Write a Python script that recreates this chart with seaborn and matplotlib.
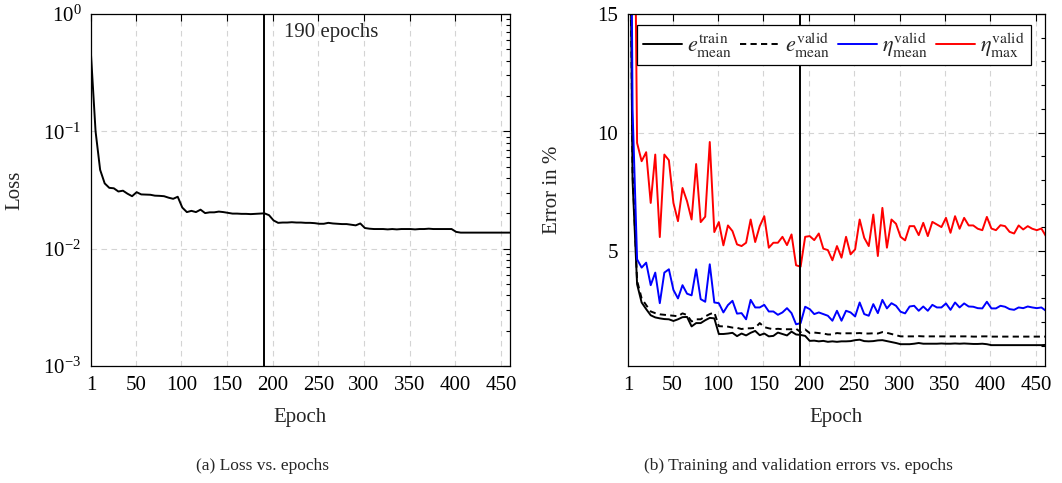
import matplotlib
matplotlib.use("Agg")
import matplotlib.pyplot as plt
import numpy as np
import pandas as pd
import seaborn as sns
from matplotlib.ticker import FixedLocator, LogLocator, MultipleLocator, NullFormatter, NullLocator

# ---------------- data ----------------
epochs = list(range(1, 462, 5))  # 1, 6, 11, ..., 461

loss = [
    0.45, 0.10, 0.047, 0.036, 0.033, 0.0327, 0.0307, 0.0312, 0.0294, 0.0280,
    0.0303, 0.0290, 0.0289, 0.0288, 0.0283, 0.0282, 0.0280, 0.0272, 0.0266, 0.0277,
    0.0224, 0.0205, 0.0210, 0.0205, 0.0215, 0.0201, 0.0204, 0.0204, 0.0207, 0.0205,
    0.0202, 0.0199, 0.0199, 0.0198, 0.0198, 0.0197, 0.0198, 0.0199, 0.0200, 0.0193,
    0.0174, 0.0166, 0.0167, 0.0167, 0.0168, 0.0167, 0.0167, 0.0166, 0.0166, 0.0165,
    0.0163, 0.0163, 0.0166, 0.0164, 0.0163, 0.0162, 0.0162, 0.0160, 0.0158, 0.0164,
    0.0150, 0.0148, 0.0147, 0.0147, 0.0147, 0.0146, 0.0147, 0.0146, 0.0147, 0.0147,
    0.0147, 0.0146, 0.0147, 0.0147, 0.0148, 0.0147, 0.0147, 0.0147, 0.0147, 0.0147,
    0.0139, 0.0137, 0.0137, 0.0137, 0.0137, 0.0137, 0.0137, 0.0137, 0.0137, 0.0137,
    0.0137, 0.0137, 0.0137,
]

e_train_mean = [
    30.0, 8.0, 3.60, 2.83, 2.55, 2.29, 2.20, 2.16, 2.13, 2.12,
    2.05, 2.12, 2.21, 2.22, 1.82, 1.96, 1.96, 2.08, 2.18, 2.16,
    1.50, 1.50, 1.52, 1.55, 1.41, 1.52, 1.44, 1.55, 1.63, 1.45,
    1.52, 1.40, 1.42, 1.56, 1.50, 1.44, 1.60, 1.48, 1.46, 1.42,
    1.21, 1.22, 1.19, 1.21, 1.17, 1.19, 1.17, 1.19, 1.19, 1.20,
    1.24, 1.26, 1.20, 1.19, 1.20, 1.23, 1.24, 1.20, 1.16, 1.12,
    1.07, 1.07, 1.07, 1.09, 1.12, 1.09, 1.09, 1.09, 1.09, 1.10,
    1.09, 1.09, 1.10, 1.09, 1.10, 1.09, 1.08, 1.08, 1.09, 1.07,
    1.03, 1.03, 1.03, 1.03, 1.03, 1.03, 1.03, 1.03, 1.03, 1.03,
    1.03, 1.03, 1.04,
]

e_valid_mean = [
    30.0, 8.4, 3.75, 3.00, 2.72, 2.45, 2.38, 2.33, 2.31, 2.29,
    2.27, 2.25, 2.37, 2.30, 2.03, 2.12, 2.12, 2.24, 2.34, 2.41,
    1.83, 1.82, 1.81, 1.77, 1.76, 1.71, 1.74, 1.74, 1.76, 1.96,
    1.79, 1.74, 1.70, 1.72, 1.70, 1.70, 1.70, 1.72, 1.58, 1.69,
    1.54, 1.56, 1.54, 1.52, 1.48, 1.48, 1.54, 1.52, 1.53, 1.53,
    1.53, 1.54, 1.52, 1.52, 1.53, 1.52, 1.58, 1.55, 1.50, 1.45,
    1.40, 1.40, 1.40, 1.40, 1.41, 1.40, 1.40, 1.40, 1.40, 1.40,
    1.40, 1.40, 1.40, 1.40, 1.40, 1.40, 1.39, 1.39, 1.40, 1.40,
    1.39, 1.39, 1.39, 1.39, 1.39, 1.39, 1.39, 1.39, 1.39, 1.39,
    1.39, 1.39, 1.39,
]

eta_mean = [
    40.0, 11.0, 4.65, 4.30, 4.51, 3.56, 4.09, 2.80, 4.09, 4.23,
    3.36, 3.00, 3.56, 3.20, 3.13, 4.23, 2.97, 2.86, 4.44, 2.83,
    2.80, 2.41, 2.72, 2.90, 2.36, 2.38, 2.12, 2.94, 2.62, 2.62,
    2.73, 2.45, 2.45, 2.31, 2.41, 2.59, 2.38, 1.91, 1.96, 2.65,
    2.55, 2.34, 2.41, 2.34, 2.27, 2.06, 2.48, 2.06, 2.48, 2.41,
    2.24, 2.83, 2.34, 2.27, 2.76, 2.38, 2.94, 2.58, 2.80, 2.69,
    2.44, 2.37, 2.66, 2.69, 2.48, 2.66, 2.48, 2.73, 2.62, 2.62,
    2.79, 2.52, 2.83, 2.62, 2.79, 2.66, 2.65, 2.59, 2.58, 2.86,
    2.58, 2.58, 2.69, 2.65, 2.55, 2.52, 2.62, 2.59, 2.66, 2.62,
    2.59, 2.62, 2.48,
]

eta_max = [
    60.0, 30.0, 9.56, 8.79, 9.17, 7.03, 9.07, 5.59, 9.07, 8.83,
    7.03, 6.26, 7.66, 7.10, 6.33, 8.67, 6.22, 6.45, 9.60, 5.80,
    6.22, 5.24, 6.08, 5.84, 5.28, 5.21, 5.35, 6.33, 5.38, 6.05,
    6.47, 5.14, 5.35, 5.35, 5.60, 5.25, 5.70, 4.40, 4.34, 5.60,
    5.63, 5.46, 5.74, 5.10, 5.04, 4.61, 5.21, 4.72, 5.60, 4.86,
    5.07, 6.33, 5.56, 5.21, 6.54, 4.79, 6.82, 5.14, 6.33, 6.15,
    5.60, 5.45, 6.05, 6.05, 5.67, 6.19, 5.63, 6.23, 6.12, 6.01,
    6.40, 5.77, 6.47, 5.94, 6.40, 6.08, 6.08, 5.94, 5.88, 6.44,
    5.95, 5.88, 6.09, 6.05, 5.81, 5.74, 6.08, 5.91, 6.05, 5.94,
    5.88, 5.95, 5.63,
]

stop_epoch = 190
epoch_ticks = [1, 50, 100, 150, 200, 250, 300, 350, 400, 450]
error_ticks = [5, 10, 15]
series_labels = [
    r"$e^{\mathrm{train}}_{\mathrm{mean}}$",
    r"$e^{\mathrm{valid}}_{\mathrm{mean}}$",
    r"$\eta^{\mathrm{valid}}_{\mathrm{mean}}$",
    r"$\eta^{\mathrm{valid}}_{\mathrm{max}}$",
]

# ---------------- style ----------------
sns.set_style("white")
plt.rcParams["font.family"] = ["Liberation Serif", "DejaVu Serif"]
plt.rcParams["mathtext.fontset"] = "stix"
plt.rcParams["font.size"] = 15
plt.rcParams["axes.edgecolor"] = "black"
plt.rcParams["axes.linewidth"] = 0.9

FS = 15
LW = 1.4
grid_kw = dict(color="#d4d4d4", linestyle=(0, (5, 4)), linewidth=0.8)

fig = plt.figure(figsize=(10.62, 4.83), dpi=100)
ax1 = fig.add_axes([91 / 1062, 1 - 366 / 483, 419 / 1062, 352 / 483])
ax2 = fig.add_axes([628 / 1062, 1 - 366 / 483, 417 / 1062, 352 / 483])

# ---------------- left: loss ----------------
df_loss = pd.DataFrame({"Epoch": epochs, "Loss": loss})
ax1.set_yscale("log")
sns.lineplot(data=df_loss, x="Epoch", y="Loss", ax=ax1, color="black", lw=LW)
ax1.axvline(stop_epoch, color="black", lw=LW, zorder=3)
ax1.text(212, 0.70, f"{stop_epoch} epochs", ha="left", va="center", fontsize=FS)
ax1.set_xlim(1, 460)
ax1.set_ylim(1e-3, 1)
ax1.yaxis.set_major_locator(LogLocator(base=10, numticks=10))
ax1.yaxis.set_minor_locator(LogLocator(base=10, subs=np.arange(2, 10), numticks=20))
ax1.yaxis.set_minor_formatter(NullFormatter())
ax1.set_ylabel("Loss", fontsize=FS)

# ---------------- right: errors ----------------
df_err = pd.DataFrame({
    "Epoch": epochs,
    "train_mean": e_train_mean,
    "valid_mean": e_valid_mean,
    "eta_mean": eta_mean,
    "eta_max": eta_max,
})
sns.lineplot(data=df_err, x="Epoch", y="train_mean", ax=ax2, color="black", lw=LW,
             label=series_labels[0])
sns.lineplot(data=df_err, x="Epoch", y="valid_mean", ax=ax2, color="black", lw=LW,
             linestyle=(0, (3.2, 2.2)), label=series_labels[1])
sns.lineplot(data=df_err, x="Epoch", y="eta_mean", ax=ax2, color="#0000ff", lw=LW,
             label=series_labels[2])
sns.lineplot(data=df_err, x="Epoch", y="eta_max", ax=ax2, color="#ff0000", lw=LW,
             label=series_labels[3])
ax2.axvline(stop_epoch, color="black", lw=LW, zorder=3)
ax2.set_xlim(1, 460)
ax2.set_ylim(0.15, 15)
ax2.yaxis.set_major_locator(FixedLocator(error_ticks))
ax2.yaxis.set_minor_locator(MultipleLocator(1))
ax2.set_ylabel("Error in %", fontsize=FS)

leg = ax2.legend(loc="upper center", bbox_to_anchor=(0.494, 0.969), ncol=4,
                 fontsize=16, frameon=True, fancybox=False, framealpha=1,
                 edgecolor="black", handlelength=1.75, handletextpad=0.25,
                 columnspacing=0.35, borderpad=0.25, borderaxespad=0.0)
leg.get_frame().set_linewidth(0.9)

# ---------------- common axis styling ----------------
for ax in (ax1, ax2):
    ax.xaxis.set_major_locator(FixedLocator(epoch_ticks))
    ax.xaxis.set_minor_locator(NullLocator())
    ax.grid(True, which="major", **grid_kw)
    ax.set_axisbelow(True)
    ax.tick_params(which="both", direction="in", top=True, right=True,
                   colors="black", labelsize=FS, width=0.8)
    ax.tick_params(which="major", length=5, pad=7)
    ax.tick_params(which="minor", length=3)
    ax.set_xlabel("Epoch", fontsize=FS)
    ax.xaxis.set_label_coords(0.5, -0.118)
    ax.yaxis.set_label_coords(-0.158, 0.5)
    for s in ax.spines.values():
        s.set_visible(True)
        s.set_color("black")

fig.text(262 / 1062, 1 - 466 / 483, "(a) Loss vs. epochs", ha="center", va="center", fontsize=12.5)
fig.text(798 / 1062, 1 - 466 / 483, "(b) Training and validation errors vs. epochs",
         ha="center", va="center", fontsize=12.5)

fig.savefig("out.png", dpi=100)
